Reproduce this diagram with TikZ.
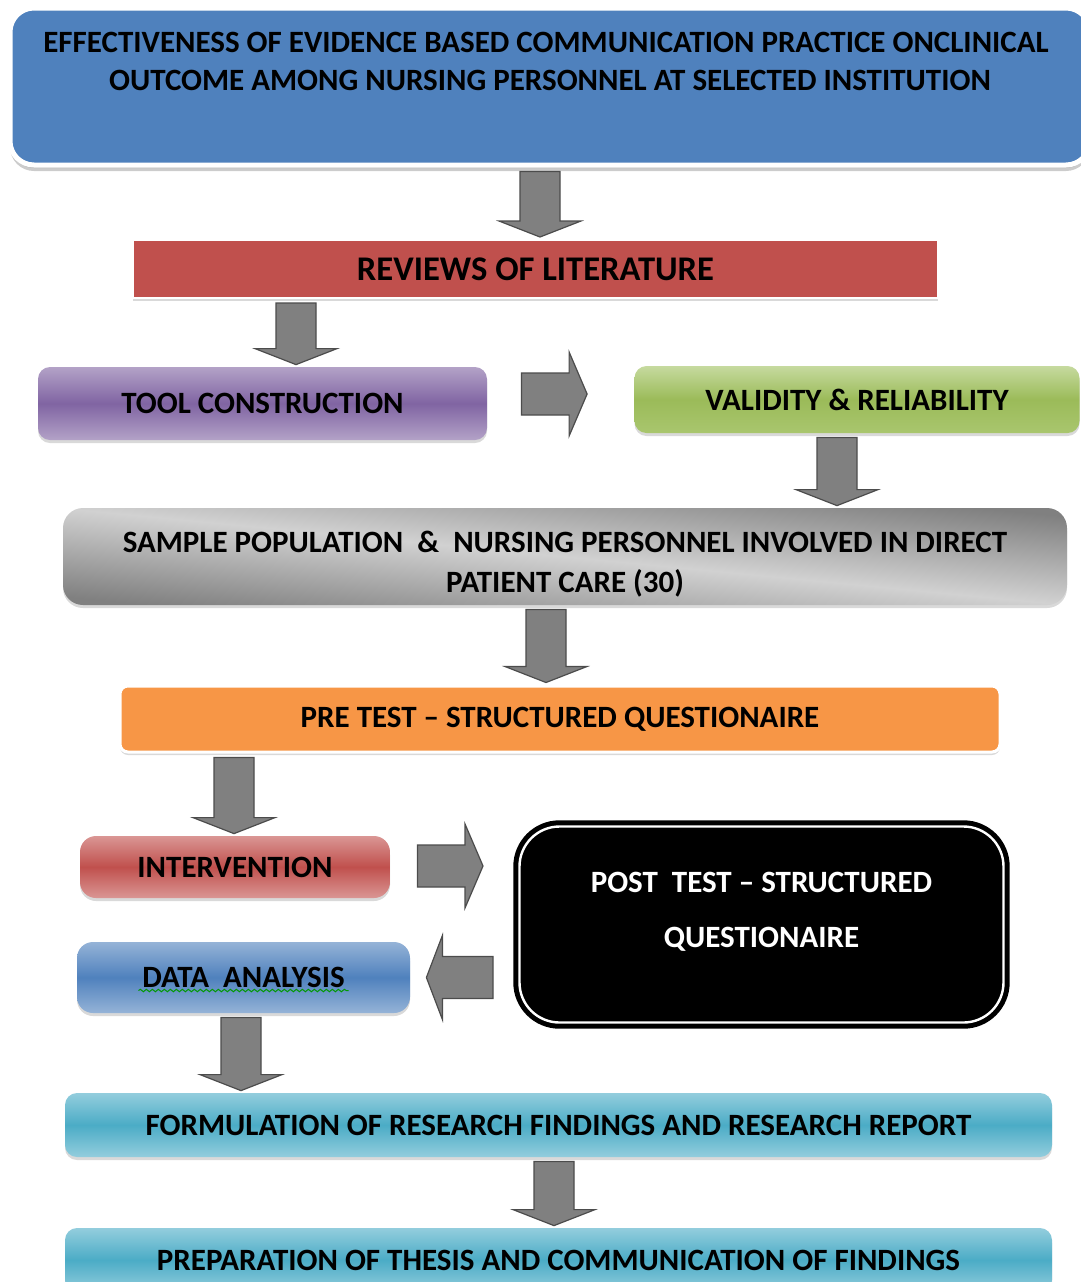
\documentclass[tikz,border=0pt]{standalone}
\usepackage{fontspec}
\setmainfont{Carlito}
\usetikzlibrary{calc,shadows,decorations.pathmorphing}

\definecolor{titleblue}{HTML}{4F81BD}
\definecolor{revred}{HTML}{C0504D}
\definecolor{toollight}{HTML}{B3A2C7}
\definecolor{tooldark}{HTML}{8064A2}
\definecolor{validlight}{HTML}{C6DA9F}
\definecolor{validdark}{HTML}{9BBB59}
\definecolor{validbot}{HTML}{A9C66E}
\definecolor{pregold}{HTML}{F79646}
\definecolor{intlight}{HTML}{DA9694}
\definecolor{intdark}{HTML}{C0504D}
\definecolor{datalight}{HTML}{95B3D7}
\definecolor{datadark}{HTML}{4F81BD}
\definecolor{teallight}{HTML}{93CDDD}
\definecolor{tealdark}{HTML}{4BACC6}
\definecolor{arrgray}{HTML}{808080}

\newcommand{\arrdown}[3]{%
  \draw[blockarr] let \p0=(#1,0), \p1=(#2.south), \p2=(#3.north) in
    (\x0-10pt,\y1-2pt) -- (\x0+10pt,\y1-2pt) -- (\x0+10pt,\y2+9pt) -- (\x0+20.5pt,\y2+9pt)
    -- (\x0,\y2+1pt) -- (\x0-20.5pt,\y2+9pt) -- (\x0-10pt,\y2+9pt) -- cycle;}
\newcommand{\arrright}[2]{%
  \draw[blockarr] let \p1=#1, \p2=#2 in
    (\x1,\y1+10.5pt) -- (\x2-9pt,\y1+10.5pt) -- (\x2-9pt,\y1+21pt) -- (\x2,\y1)
    -- (\x2-9pt,\y1-21pt) -- (\x2-9pt,\y1-10.5pt) -- (\x1,\y1-10.5pt) -- cycle;}
\newcommand{\arrleft}[2]{%
  \draw[blockarr] let \p1=#1, \p2=#2 in
    (\x1,\y1+10.5pt) -- (\x2+8pt,\y1+10.5pt) -- (\x2+8pt,\y1+21pt) -- (\x2,\y1)
    -- (\x2+8pt,\y1-21pt) -- (\x2+8pt,\y1-10.5pt) -- (\x1,\y1-10.5pt) -- cycle;}

\begin{document}
\begin{tikzpicture}[x=0.5pt, y=-0.5pt,
    box/.style={inner sep=0pt, rounded corners=6pt, align=center, text=black,
      font=\bfseries\fontsize{15.5}{20}\selectfont,
      drop shadow={shadow xshift=0pt, shadow yshift=-1.5pt, opacity=0.3}},
    blockarr/.style={fill=arrgray, draw=black!70, line width=0.6pt}]
  \useasboundingbox (0,0) rectangle (1081,1282);

  \node[box, fill=titleblue, draw=white, line width=2.5pt, rounded corners=12pt,
    drop shadow={shadow xshift=0pt, shadow yshift=-3pt, opacity=0.4},
    minimum width=540pt, minimum height=78.5pt] (title) at (550,86.5)
    {\parbox[c][54pt][t]{530pt}{\centering\baselineskip=19pt
     \hspace*{-4pt}EFFECTIVENESS OF EVIDENCE BASED COMMUNICATION PRACTICE ONCLINICAL\\
     OUTCOME AMONG NURSING PERSONNEL AT SELECTED INSTITUTION}};
  \node[box, fill=revred, draw=white, line width=1pt, sharp corners,
    font=\bfseries\fontsize{17.3}{20}\selectfont,
    minimum width=402.5pt, minimum height=29pt] (rev) at (535.5,269)
    {\raisebox{-2.5pt}{REVIEWS OF LITERATURE}};
  \node[box, top color=toollight, bottom color=toollight, middle color=tooldark,
    minimum width=224.5pt, minimum height=36.5pt] (tool) at (262.5,403.5) {TOOL CONSTRUCTION};
  \node[box, top color=validlight, bottom color=validbot, middle color=validdark,
    minimum width=222.5pt, minimum height=33.5pt] (valid) at (857,399.5) {VALIDITY \& RELIABILITY};
  \node[box, top color=black!50, bottom color=black!50, middle color=black!18, shading angle=-5.5,
    rounded corners=10pt, minimum width=502pt, minimum height=48.5pt] (sample) at (565,556.5)
    {\parbox[c][25.5pt][t]{490pt}{\centering SAMPLE POPULATION~ \&~ NURSING PERSONNEL INVOLVED IN DIRECT\\
     PATIENT CARE (30)}};
  \node[box, fill=pregold, draw=white, line width=1.5pt, rounded corners=4pt,
    minimum width=440pt, minimum height=33pt] (pre) at (560,719) {PRE TEST – STRUCTURED QUESTIONAIRE};
  \node[box, top color=intlight, bottom color=intlight, middle color=intdark,
    rounded corners=8pt, minimum width=155pt, minimum height=31pt] (interv) at (235,867) {INTERVENTION};
  \node[box, fill=black, draw=black, double=white, double distance=1.2pt, line width=2.5pt,
    rounded corners=20pt, text=white, minimum width=242pt, minimum height=98pt] (post) at (761.5,924.5)
    {\parbox[c][52pt][t]{220pt}{\centering\baselineskip=27.5pt POST~ TEST – STRUCTURED\\ QUESTIONAIRE}};
  \node[box, top color=datalight, bottom color=datalight, middle color=datadark,
    rounded corners=8pt, minimum width=166.5pt, minimum height=35.5pt] (data) at (243.5,977.5) {DATA~ ANALYSIS};
  \node[box, top color=teallight, bottom color=teallight, middle color=tealdark,
    minimum width=493.5pt, minimum height=32pt] (form) at (558.5,1125)
    {\raisebox{-1.5pt}{FORMULATION OF RESEARCH FINDINGS AND RESEARCH REPORT}};
  \node[box, top color=teallight, bottom color=teallight, middle color=tealdark,
    minimum width=493.5pt, minimum height=32pt] (prep) at (558.5,1260)
    {PREPARATION OF THESIS AND COMMUNICATION OF FINDINGS};

  \draw[green!60!black, line width=0.5pt, decorate, decoration={snake, amplitude=0.6pt, segment length=3pt}]
    ($(data.center)+(-105,13)$) -- ($(data.center)+(105,13)$);

  \foreach \ax/\na/\nb in {540/title/rev, 296/rev/tool, 837/valid/sample, 546/sample/pre,
      234/pre/interv, 241/data/form, 554/form/prep}
    \arrdown{\ax}{\na}{\nb};
  \arrright{($(tool.east)+(34,-9.5)$)}{($(valid.west)+(-47,0)$)};
  \arrright{($(interv.east)+(27,-1)$)}{($(post.west)+(-34,0)$)};
  \arrleft{($(post.west |- data.east)+(-24,0)$)}{($(data.east)+(16,0)$)};
\end{tikzpicture}
\end{document}
